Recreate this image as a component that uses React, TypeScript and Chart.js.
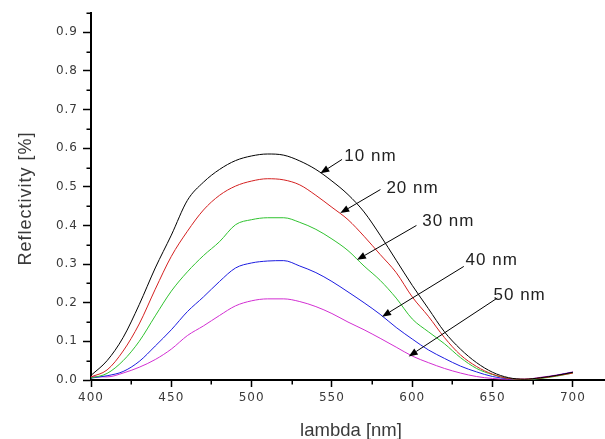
import { useEffect, useRef } from 'react';
import { Chart, registerables } from 'chart.js';

Chart.register(...registerables);

const wavelengths = [400, 410, 420, 430, 440, 450, 460, 470, 480, 490, 500, 510, 520, 530, 540, 550, 560, 570, 580, 590, 600, 610, 620, 630, 640, 650, 660, 670, 680, 690, 700];

const reflect10 = [0.012, 0.05, 0.11, 0.195, 0.29, 0.375, 0.465, 0.512, 0.545, 0.568, 0.58, 0.585, 0.582, 0.567, 0.545, 0.515, 0.48, 0.435, 0.375, 0.31, 0.245, 0.185, 0.125, 0.08, 0.045, 0.02, 0.006, 0.002, 0.006, 0.012, 0.02];
const reflect20 = [0.008, 0.026, 0.075, 0.145, 0.235, 0.32, 0.385, 0.44, 0.478, 0.502, 0.515, 0.521, 0.518, 0.505, 0.478, 0.447, 0.415, 0.372, 0.325, 0.278, 0.215, 0.165, 0.11, 0.065, 0.035, 0.015, 0.004, 0.002, 0.005, 0.011, 0.018];
const reflect30 = [0.005, 0.017, 0.05, 0.1, 0.166, 0.23, 0.28, 0.322, 0.358, 0.402, 0.415, 0.42, 0.42, 0.408, 0.39, 0.365, 0.335, 0.295, 0.258, 0.212, 0.158, 0.125, 0.094, 0.058, 0.03, 0.014, 0.004, 0.001, 0.004, 0.01, 0.018];
const reflect40 = [0.005, 0.011, 0.022, 0.048, 0.088, 0.13, 0.177, 0.215, 0.255, 0.29, 0.303, 0.308, 0.309, 0.295, 0.278, 0.255, 0.228, 0.2, 0.17, 0.136, 0.106, 0.078, 0.056, 0.036, 0.021, 0.009, 0.003, 0.001, 0.005, 0.012, 0.02];
const reflect50 = [0.009, 0.008, 0.018, 0.033, 0.053, 0.08, 0.115, 0.14, 0.167, 0.192, 0.205, 0.21, 0.21, 0.203, 0.19, 0.172, 0.15, 0.13, 0.108, 0.085, 0.062, 0.045, 0.03, 0.018, 0.009, 0.004, 0.002, 0.002, 0.007, 0.013, 0.021];

const seriesLabels = ['10 nm', '20 nm', '30 nm', '40 nm', '50 nm'];
const seriesColors = ['#000000', '#d42020', '#2fc22f', '#1c1ce0', '#d22ed2'];

const yTickValues = [0, 0.1, 0.2, 0.3, 0.4, 0.5, 0.6, 0.7, 0.8, 0.9];
const yMinorValues = [0.05, 0.15, 0.25, 0.35, 0.45, 0.55, 0.65, 0.75, 0.85, 0.95];
const xTickValues = [400, 450, 500, 550, 600, 650, 700];
const xMinorValues = [425, 475, 525, 575, 625, 675];

// annotation anchors, in data units (lambda, reflectivity)
const arrowTipX = [542.8, 555.2, 565.6, 581.2, 597.8];
const arrowTipY = [0.535, 0.432, 0.311, 0.164, 0.061];
const arrowTailX = [556.3, 580.2, 602.6, 632.1, 652.9];
const arrowTailY = [0.571, 0.493, 0.4, 0.294, 0.212];
const labelX = [557.7, 583.9, 606.2, 633.2, 650.6];
const labelY = [0.578, 0.496, 0.412, 0.31, 0.218];

const xTitle = 'lambda [nm]';
const yTitle = 'Reflectivity [%]';

export default function App() {
  const ref = useRef<HTMLCanvasElement>(null);

  useEffect(() => {
    const seriesValues = [reflect10, reflect20, reflect30, reflect40, reflect50];
    const overlay = {
      id: 'overlay',
      beforeDraw(chart: any) {
        (chart.ctx as any).letterSpacing = '1px';
      },
      afterDraw(chart: any) {
        const ctx = chart.ctx as CanvasRenderingContext2D & { letterSpacing: string };
        const xs = chart.scales.x;
        const ys = chart.scales.y;
        const area = chart.chartArea;
        ctx.save();
        ctx.strokeStyle = '#000';
        ctx.lineWidth = 1.5;
        ctx.beginPath();
        yMinorValues.forEach((v) => {
          const py = Math.round(ys.getPixelForValue(v)) + 0.25;
          ctx.moveTo(area.left - 4.5, py);
          ctx.lineTo(area.left, py);
        });
        xMinorValues.forEach((v) => {
          const px = Math.round(xs.getPixelForValue(v)) + 0.25;
          ctx.moveTo(px, area.bottom);
          ctx.lineTo(px, area.bottom + 4.5);
        });
        ctx.stroke();

        // annotations
        ctx.lineWidth = 1;
        ctx.fillStyle = '#000';
        seriesLabels.forEach((lab, i) => {
          const tx = xs.getPixelForValue(arrowTipX[i]);
          const ty = ys.getPixelForValue(arrowTipY[i]);
          const sx = xs.getPixelForValue(arrowTailX[i]);
          const sy = ys.getPixelForValue(arrowTailY[i]);
          const ang = Math.atan2(ty - sy, tx - sx);
          const len = 9;
          const hw = 3.5;
          const bx = tx - Math.cos(ang) * len;
          const by = ty - Math.sin(ang) * len;
          ctx.beginPath();
          ctx.moveTo(sx, sy);
          ctx.lineTo(bx, by);
          ctx.stroke();
          ctx.beginPath();
          ctx.moveTo(tx, ty);
          ctx.lineTo(bx - Math.sin(ang) * hw, by + Math.cos(ang) * hw);
          ctx.lineTo(bx + Math.sin(ang) * hw, by - Math.cos(ang) * hw);
          ctx.closePath();
          ctx.fill();

          ctx.letterSpacing = '1px';
          ctx.font = '17px "Liberation Sans", Arial, sans-serif';
          ctx.fillStyle = '#222';
          ctx.textAlign = 'left';
          ctx.textBaseline = 'middle';
          ctx.fillText(lab, xs.getPixelForValue(labelX[i]), ys.getPixelForValue(labelY[i]));
          ctx.fillStyle = '#000';
        });

        // axis titles
        ctx.fillStyle = '#3a3a3a';
        ctx.letterSpacing = '0px';
        ctx.font = '18.5px "Liberation Sans", Arial, sans-serif';
        ctx.textAlign = 'center';
        ctx.textBaseline = 'alphabetic';
        ctx.fillText(xTitle, (area.left + area.right) / 2 + 3, 436);

        ctx.save();
        ctx.translate(31, (area.top + area.bottom) / 2 + 2);
        ctx.rotate(-Math.PI / 2);
        ctx.letterSpacing = '1px';
        ctx.font = '18px "Liberation Sans", Arial, sans-serif';
        ctx.fillText(yTitle, 0, 0);
        ctx.restore();

        ctx.restore();
      },
    };

    const tickFont = { family: '"DejaVu Sans", Verdana, sans-serif', size: 12 };

    const chart = new Chart(ref.current as HTMLCanvasElement, {
      type: 'line',
      data: {
        datasets: seriesValues.map((vals, i) => ({
          label: seriesLabels[i],
          data: wavelengths.map((w, j) => ({ x: w, y: vals[j] })),
          borderColor: seriesColors[i],
          backgroundColor: seriesColors[i],
          borderWidth: 1,
          pointRadius: 0,
          cubicInterpolationMode: 'monotone' as const,
          fill: false,
        })),
      },
      options: {
        animation: false,
        responsive: true,
        maintainAspectRatio: false,
        layout: { padding: { top: 13, right: 0, left: 0, bottom: 0 } },
        plugins: {
          legend: { display: false },
          tooltip: { enabled: false },
        },
        scales: {
          x: {
            type: 'linear',
            min: 400,
            max: 720,
            afterBuildTicks: (s: any) => {
              s.ticks = xTickValues.map((value) => ({ value }));
            },
            afterFit: (s: any) => {
              s.height = 59;
            },
            grid: {
              drawOnChartArea: false,
              drawTicks: true,
              tickLength: 7,
              tickWidth: 1.5,
              tickColor: '#000',
            },
            border: { display: true, color: '#000', width: 2 },
            ticks: {
              autoSkip: false,
              maxRotation: 0,
              padding: 4,
              color: '#3a3a3a',
              font: tickFont,
              callback: (v: any) => String(v),
            },
          },
          y: {
            type: 'linear',
            min: 0,
            max: 0.95,
            afterBuildTicks: (s: any) => {
              s.ticks = yTickValues.map((value) => ({ value }));
            },
            afterFit: (s: any) => {
              s.width = 91;
            },
            grid: {
              drawOnChartArea: false,
              drawTicks: true,
              tickLength: 8,
              tickWidth: 1.5,
              tickColor: '#000',
            },
            border: { display: true, color: '#000', width: 2 },
            ticks: {
              autoSkip: false,
              padding: 5,
              color: '#3a3a3a',
              font: tickFont,
              callback: (v: any) => Number(v).toFixed(1),
            },
          },
        },
      },
      plugins: [overlay],
    });
    return () => chart.destroy();
  }, []);

  return (
    <div style={{ position: 'absolute', left: 0, top: 0, width: 605, height: 439, background: '#fff' }}>
      <canvas ref={ref} />
    </div>
  );
}
